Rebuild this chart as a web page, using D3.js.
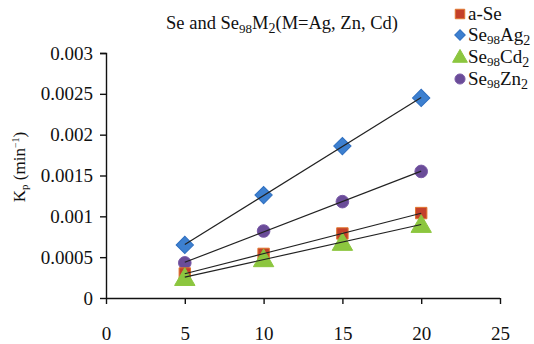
<!DOCTYPE html>
<html>
<head>
<meta charset="utf-8">
<script src="https://cdn.jsdelivr.net/npm/d3@7"></script>
<style>
  body { margin: 0; background: #fff; overflow: hidden; }
</style>
</head>
<body>
<div id="chart"></div>
<script>
// reaction time (min)
const times = [5, 10, 15, 20];
const aSe = [0.00030, 0.00054, 0.00079, 0.00104];
const seAg = [0.00065, 0.00126, 0.00186, 0.00245];
const seCd = [0.00025, 0.00048, 0.00068, 0.00090];
const seZn = [0.00043, 0.00082, 0.00118, 0.00155];
const xTicks = [0, 5, 10, 15, 20, 25];
const yTicks = [0, 0.0005, 0.001, 0.0015, 0.002, 0.0025, 0.003];

const FONT = 'Liberation Serif';

const series = [
  { name: 'a-Se', values: aSe, shape: 'square', fill: '#c4402a', stroke: '#e0772f' },
  { name: 'Se98Ag2', sub: ['Se', '98', 'Ag', '2'], values: seAg, shape: 'diamond', fill: '#3d80d0', stroke: '#2f6fc0' },
  { name: 'Se98Cd2', sub: ['Se', '98', 'Cd', '2'], values: seCd, shape: 'triangle', fill: '#8cc63f', stroke: '#8cc63f' },
  { name: 'Se98Zn2', sub: ['Se', '98', 'Zn', '2'], values: seZn, shape: 'circle', fill: '#6a4c98', stroke: '#7a5aa8' }
];

const W = 534, H = 344;
const margin = { top: 53, right: 34, bottom: 46, left: 106 };
const width = W - margin.left - margin.right;
const height = H - margin.top - margin.bottom;

const svg = d3.select('#chart').append('svg')
  .attr('width', W)
  .attr('height', H);

const g = svg.append('g')
  .attr('transform', `translate(${margin.left},${margin.top})`);

const x = d3.scaleLinear().domain([0, 25]).range([0, width]);
const y = d3.scaleLinear().domain([0, 0.003]).range([height, 0]);

// axes
const xAxis = g.append('g')
  .attr('transform', `translate(0,${height})`)
  .call(d3.axisBottom(x).tickValues(xTicks).tickSize(6).tickPadding(23).tickFormat(d3.format('d')));
const yAxis = g.append('g')
  .call(d3.axisLeft(y).tickValues(yTicks).tickSize(6).tickPadding(7).tickFormat(d => d === 0 ? '0' : String(+d.toFixed(4))));

[xAxis, yAxis].forEach(a => {
  a.attr('font-family', null).attr('font-size', null);
  a.select('.domain').attr('stroke', '#111').attr('stroke-width', 1.4);
  a.selectAll('.tick line').attr('stroke', '#111').attr('stroke-width', 1.4);
  a.selectAll('.tick text')
    .attr('fill', '#111')
    .attr('font-family', FONT)
    .attr('font-size', 19);
});
yAxis.select('.domain').attr('d', `M-6,0.5H0.5V${height}`);
xAxis.select('.domain').attr('d', `M0,0.5H${width}`);

// markers
const symbolFor = s => {
  if (s === 'square') return d3.symbol().type(d3.symbolSquare).size(130)();
  if (s === 'diamond') return d3.symbol().type(d3.symbolSquare).size(150)();
  if (s === 'triangle') return d3.symbol().type(d3.symbolTriangle).size(180)();
  return d3.symbol().type(d3.symbolCircle).size(125)();
};

const drawOrder = [1, 3, 0, 2];
drawOrder.forEach(i => {
  const s = series[i];
  g.append('g').selectAll('path')
    .data(s.values.map((v, j) => ({ t: times[j], v })))
    .join('path')
    .attr('d', symbolFor(s.shape))
    .attr('transform', d => `translate(${x(d.t)},${y(d.v) + (s.shape === 'triangle' ? 2 : 0)})` + (s.shape === 'diamond' ? ' rotate(45)' : ''))
    .attr('fill', s.fill)
    .attr('stroke', s.stroke)
    .attr('stroke-width', 1);
});

// linear trend lines
series.forEach(s => {
  const n = times.length;
  const mx = d3.mean(times), my = d3.mean(s.values);
  const b = d3.sum(times, (t, j) => (t - mx) * (s.values[j] - my)) / d3.sum(times, t => (t - mx) * (t - mx));
  const a = my - b * mx;
  const ends = [times[0], times[n - 1]];
  g.append('line')
    .attr('x1', x(ends[0])).attr('y1', y(a + b * ends[0]))
    .attr('x2', x(ends[1])).attr('y2', y(a + b * ends[1]))
    .attr('stroke', '#222')
    .attr('stroke-width', 1.2);
});

// title
const title = svg.append('text')
  .attr('x', 282).attr('y', 29)
  .attr('text-anchor', 'middle')
  .attr('fill', '#111')
  .attr('font-family', FONT)
  .attr('font-size', 18.5);
title.append('tspan').text('Se and Se');
title.append('tspan').text('98').attr('dy', 4).attr('font-size', 13);
title.append('tspan').text('M').attr('dy', -4);
title.append('tspan').text('2').attr('dy', 4).attr('font-size', 14);
title.append('tspan').text('(M=Ag, Zn, Cd)').attr('dy', -4);

// y label
const ylab = svg.append('text')
  .attr('transform', 'translate(25,167) rotate(-90)')
  .attr('text-anchor', 'middle')
  .attr('fill', '#111')
  .attr('font-family', FONT)
  .attr('font-size', 17);
ylab.append('tspan').text('K');
ylab.append('tspan').text('p').attr('dy', 3).attr('font-size', 11);
ylab.append('tspan').text(' (min').attr('dy', -3);
ylab.append('tspan').text('\u22121').attr('dy', -6).attr('font-size', 10);
ylab.append('tspan').text(')').attr('dy', 6);

// legend
const legend = svg.append('g').attr('transform', 'translate(460,0)');
const rowY = [14, 35, 57, 79];
series.forEach((s, i) => {
  const row = legend.append('g').attr('transform', `translate(0,${rowY[i]})`);
  const sz = { square: 90, diamond: 55, triangle: 95, circle: 80 }[s.shape];
  const type = s.shape === 'triangle' ? d3.symbolTriangle : s.shape === 'circle' ? d3.symbolCircle : d3.symbolSquare;
  row.append('path')
    .attr('d', d3.symbol().type(type).size(sz)())
    .attr('transform', s.shape === 'diamond' ? 'rotate(45)' : (s.shape === 'triangle' ? 'translate(0,1)' : null))
    .attr('fill', s.fill)
    .attr('stroke', s.stroke);
  const t = row.append('text')
    .attr('x', 8).attr('y', 6)
    .attr('fill', '#111')
    .attr('font-family', FONT)
    .attr('font-size', 19);
  if (!s.sub) {
    t.text(s.name);
  } else {
    t.append('tspan').text(s.sub[0]);
    t.append('tspan').text(s.sub[1]).attr('dy', 3).attr('font-size', 13);
    t.append('tspan').text(s.sub[2]).attr('dy', -3);
    t.append('tspan').text(s.sub[3]).attr('dy', 4).attr('font-size', 14);
  }
});
</script>
</body>
</html>
